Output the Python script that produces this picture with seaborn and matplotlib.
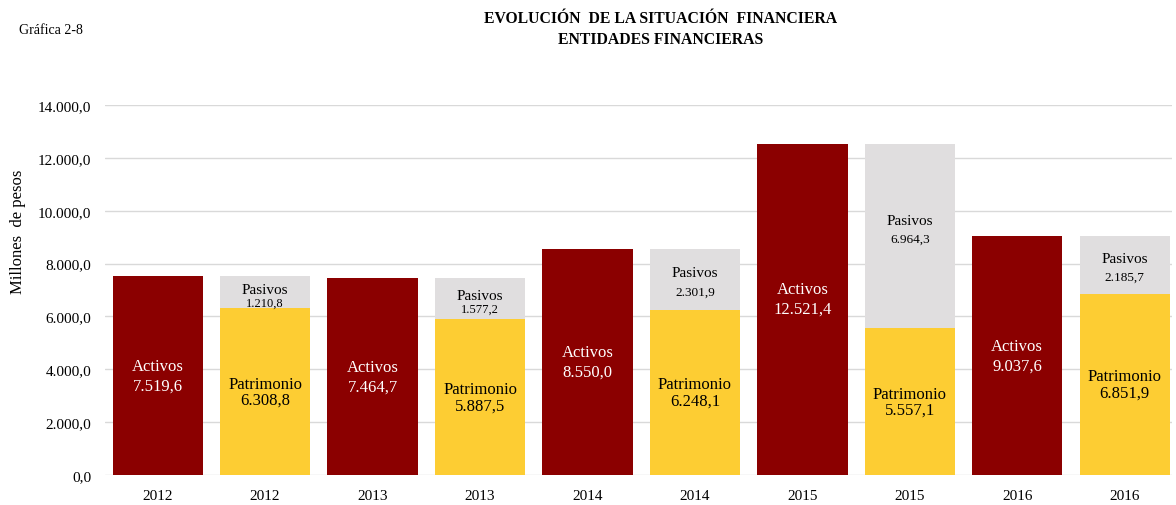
import pandas as pd
import numpy as np
import matplotlib.pyplot as plt
import seaborn as sns

years = [2012, 2013, 2014, 2015, 2016]
activos = [7519.6, 7464.7, 8550.0, 12521.4, 9037.6]
pasivos = [1210.8, 1577.2, 2301.9, 6964.3, 2185.7]
patrimonio = [6308.8, 5887.5, 6248.1, 5557.1, 6851.9]

RED = "#8B0000"
YELLOW = "#FDCD33"
GREY = "#E0DEDF"


def fmt(v):
    s = f"{v:,.1f}"
    return s.replace(",", "X").replace(".", ",").replace("X", ".")


# one slot per bar: activos, then pasivos+patrimonio for each year
slots = [str(i) for i in range(2 * len(years))]
tops = []
colors = {}
for i, y in enumerate(years):
    tops.append(activos[i])
    tops.append(pasivos[i] + patrimonio[i])
    colors[slots[2 * i]] = RED
    colors[slots[2 * i + 1]] = GREY
df_top = pd.DataFrame({"slot": slots, "valor": tops})
df_pat = pd.DataFrame({"slot": slots[1::2], "valor": patrimonio})

sns.set_style("white")
plt.rcParams["font.family"] = ["Liberation Serif", "DejaVu Serif"]
plt.rcParams["text.color"] = "black"
plt.rcParams["xtick.color"] = "black"
plt.rcParams["ytick.color"] = "black"
plt.rcParams["axes.labelcolor"] = "black"

fig = plt.figure(figsize=(11.76, 5.06), dpi=100)
ax = fig.add_axes([0.0893, 0.0593, 0.9073, 0.7312])

sns.barplot(data=df_top, x="slot", y="valor", hue="slot", palette=colors,
            order=slots, width=0.84, legend=False, ax=ax, saturation=1,
            linewidth=0, edgecolor="none", zorder=2)
sns.barplot(data=df_pat, x="slot", y="valor", order=slots, color=YELLOW,
            width=0.84, ax=ax, saturation=1, linewidth=0, edgecolor="none", zorder=3)

ax.set_ylim(0, 14000)
ax.set_xlim(-0.49, 9.44)
ax.set_yticks(np.arange(0, 14001, 2000))
ax.set_yticklabels([fmt(v) for v in np.arange(0, 14001, 2000)], fontsize=11)
ax.set_xticks(range(len(slots)))
ax.set_xticklabels([str(y) for y in years for _ in range(2)], fontsize=11)
ax.tick_params(axis="both", length=0, pad=10)
ax.yaxis.grid(True, color="#D9D9D9", linewidth=1)
ax.set_axisbelow(True)
for s in ["top", "right", "left", "bottom"]:
    ax.spines[s].set_visible(False)
ax.set_xlabel("")
ax.set_ylabel("Millones  de pesos", fontsize=12)
ax.yaxis.set_label_coords(-0.074, 0.66)

for i in range(len(years)):
    xa = 2 * i
    xb = 2 * i + 1
    ax.text(xa, activos[i] / 2 + (400 if activos[i] > 10000 else 0),
            f"Activos\n{fmt(activos[i])}", color="white",
            ha="center", va="center", fontsize=12, linespacing=1.3, zorder=5)
    ax.text(xb, patrimonio[i] / 2, f"Patrimonio\n{fmt(patrimonio[i])}", color="black",
            ha="center", va="center", fontsize=12, linespacing=1.0, zorder=5)
    small = pasivos[i] < 2000
    ymid = patrimonio[i] + pasivos[i] / 2
    if small:
        ax.text(xb, ymid + 120, "Pasivos", ha="center", va="center", fontsize=11, zorder=5)
        ax.text(xb, ymid - 380, fmt(pasivos[i]), ha="center", va="center", fontsize=9, zorder=5)
    elif pasivos[i] > 5000:
        ax.text(xb, ymid + 600, "Pasivos", ha="center", va="center", fontsize=11, zorder=5)
        ax.text(xb, ymid - 100, fmt(pasivos[i]), ha="center", va="center", fontsize=9.5, zorder=5)
    else:
        ax.text(xb, ymid + 250, "Pasivos", ha="center", va="center", fontsize=11, zorder=5)
        ax.text(xb, ymid - 450, fmt(pasivos[i]), ha="center", va="center", fontsize=9.5, zorder=5)

fig.text(0.562, 0.978, "EVOLUCIÓN  DE LA SITUACIÓN  FINANCIERA\nENTIDADES FINANCIERAS",
         ha="center", va="top", fontsize=11.3, fontweight="bold", linespacing=1.4)
fig.text(0.016, 0.94, "Gráfica 2-8", ha="left", va="center", fontsize=10)

fig.savefig("out.png", dpi=100)
